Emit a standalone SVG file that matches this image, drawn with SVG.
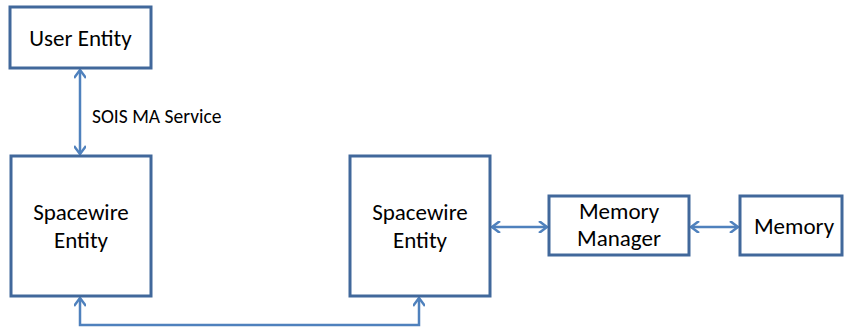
<svg xmlns="http://www.w3.org/2000/svg" width="844" height="327" viewBox="0 0 844 327">
<style>
.box{fill:#fff;stroke:#41689b;stroke-width:3}
.lbl{font-family:Calibri,Carlito,"Liberation Sans",sans-serif;font-size:23px;fill:#000;text-anchor:middle}
.small{font-family:Calibri,Carlito,"Liberation Sans",sans-serif;font-size:19.5px;fill:#000}
.con{fill:none;stroke:#4f81bd;stroke-width:2.5}
</style>
<defs>
<marker id="ah" markerWidth="12" markerHeight="12" refX="10" refY="6" orient="auto-start-reverse" markerUnits="userSpaceOnUse">
<path d="M2,0 L10,6 L2,12" fill="none" stroke="#4f81bd" stroke-width="2.5"/>
</marker>
</defs>
<g id="connectors">
<line class="con" x1="80" y1="70" x2="80" y2="154" marker-start="url(#ah)" marker-end="url(#ah)"/>
<path class="con" d="M80,298 L80,325 L419,325 L419,298" marker-start="url(#ah)" marker-end="url(#ah)"/>
<line class="con" x1="492" y1="227" x2="547" y2="227" marker-start="url(#ah)" marker-end="url(#ah)"/>
<line class="con" x1="691" y1="227" x2="738" y2="227" marker-start="url(#ah)" marker-end="url(#ah)"/>
<text class="small" x="92" y="123">SOIS MA Service</text>
</g>
<g id="user-entity">
<rect class="box" x="10" y="7" width="141" height="61"/>
<text class="lbl" x="80.5" y="46">User Entity</text>
</g>
<g id="spacewire-left">
<rect class="box" x="11" y="156" width="140" height="140"/>
<text class="lbl" x="81" y="220">Spacewire</text>
<text class="lbl" x="81" y="248">Entity</text>
</g>
<g id="spacewire-right">
<rect class="box" x="350" y="156" width="140" height="140"/>
<text class="lbl" x="420" y="220">Spacewire</text>
<text class="lbl" x="420" y="248">Entity</text>
</g>
<g id="memory-manager">
<rect class="box" x="549" y="196" width="140" height="59"/>
<text class="lbl" x="619" y="219">Memory</text>
<text class="lbl" x="619" y="246">Manager</text>
</g>
<g id="memory">
<rect class="box" x="740" y="196" width="102" height="59"/>
<text class="lbl" x="794" y="234">Memory</text>
</g>
</svg>
